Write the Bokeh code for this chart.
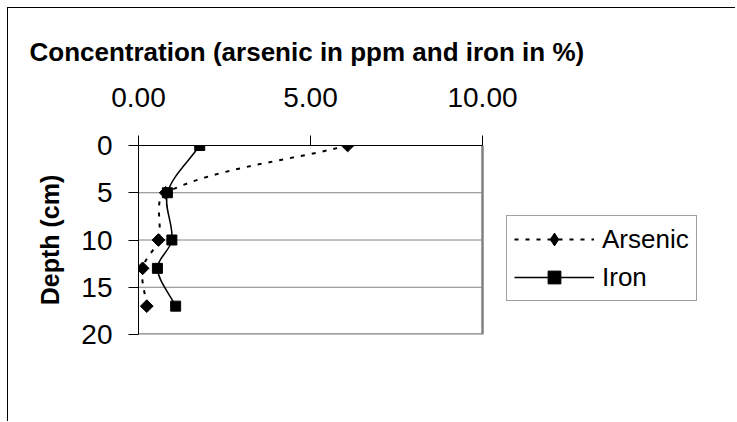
from bokeh.plotting import figure
from bokeh.models import (Range1d, FixedTicker, NumeralTickFormatter, Legend, LegendItem,
                          ColumnDataSource)
from bokeh.embed import file_html
from bokeh.resources import INLINE
import math

# ---- data ----
depth_cm = [0, 5, 10, 13, 17]
arsenic_ppm = [6.08, 0.79, 0.58, 0.12, 0.24]
iron_pct = [1.78, 0.84, 0.97, 0.55, 1.08]
x_ticks = [0, 5, 10]
y_ticks = [0, 5, 10, 15, 20]
grid_ticks = [5, 10, 15]
x_lim = (0, 10)
y_lim = (0, 20)
title_text = "Concentration (arsenic in ppm and iron in %)"
y_label = "Depth (cm)"
series_names = ["Arsenic", "Iron"]

FONT = "Liberation Sans"

# layout (pixels inside the canvas; the canvas starts 8 px from the window's corner)
W, H = 728, 414
LEFT, TOP, BOTTOM = 130, 137, 88
RIGHT = 10
PLOT_W = 344            # width of the 0..10 plotting box
PLOT_H = H - TOP - BOTTOM
FRAME_W = W - LEFT - RIGHT
x_end = x_lim[0] + (x_lim[1] - x_lim[0]) * FRAME_W / PLOT_W
SX = PLOT_W / (x_lim[1] - x_lim[0])   # px per x unit
SY = PLOT_H / (y_lim[1] - y_lim[0])   # px per y unit


def smooth_segments(xs, ys):
    """Bezier segments of an Excel-style smoothed line, computed from the data points."""
    n = len(xs)
    seg = dict(x0=[], y0=[], x1=[], y1=[], cx0=[], cy0=[], cx1=[], cy1=[])

    def dist(a, b):
        return math.hypot((a[0] - b[0]) * SX, (a[1] - b[1]) * SY)

    for i in range(n - 1):
        p0 = (xs[max(i - 1, 0)], ys[max(i - 1, 0)])
        p1 = (xs[i], ys[i])
        p2 = (xs[i + 1], ys[i + 1])
        p3 = (xs[min(i + 2, n - 1)], ys[min(i + 2, n - 1)])
        d01, d12, d23 = dist(p0, p1), dist(p1, p2), dist(p2, p3)
        r1 = d12 / (d01 + d12) if d01 + d12 > 0 else 0.5
        r2 = d12 / (d12 + d23) if d12 + d23 > 0 else 0.5
        seg["x0"].append(p1[0]); seg["y0"].append(p1[1])
        seg["x1"].append(p2[0]); seg["y1"].append(p2[1])
        seg["cx0"].append(p1[0] + (p2[0] - p0[0]) * r1 / 3.0)
        seg["cy0"].append(p1[1] + (p2[1] - p0[1]) * r1 / 3.0)
        seg["cx1"].append(p2[0] - (p3[0] - p1[0]) * r2 / 3.0)
        seg["cy1"].append(p2[1] - (p3[1] - p1[1]) * r2 / 3.0)
    return ColumnDataSource(seg)


p = figure(width=W, height=H, output_backend="svg", toolbar_location=None,
           x_range=Range1d(x_lim[0], x_end), y_range=Range1d(y_lim[1], y_lim[0]),
           x_axis_location="above", min_border_left=LEFT, min_border_right=RIGHT,
           min_border_top=TOP, min_border_bottom=BOTTOM)
# outer chart border: only its left and top edges fall inside the window
p.margin = (7, 0, 0, 7)
p.styles = {"border-left": "1px solid #000000", "border-top": "1px solid #000000"}

p.background_fill_color = "white"
p.border_fill_color = "white"
p.outline_line_color = None

# axes
xa = p.xaxis[0]
xa.ticker = FixedTicker(ticks=x_ticks)
xa.formatter = NumeralTickFormatter(format="0.00")
xa.bounds = x_lim
ya = p.yaxis[0]
ya.ticker = FixedTicker(ticks=y_ticks)
ya.axis_label = y_label
for ax in (xa, ya):
    ax.axis_line_color = "black"
    ax.axis_line_width = 1
    ax.major_tick_line_color = "black"
    ax.major_tick_out = 10
    ax.major_tick_in = 0
    ax.minor_tick_line_color = None
    ax.major_label_text_font = FONT
    ax.major_label_text_font_size = "28px"
    ax.major_label_text_color = "black"
xa.major_label_standoff = 29
ya.major_label_standoff = 16
ya.axis_label_text_font = FONT
ya.axis_label_text_font_size = "25px"
ya.axis_label_text_font_style = "bold"
ya.axis_label_text_color = "black"
ya.axis_label_standoff = 14

p.xgrid.grid_line_color = None
p.ygrid.grid_line_color = None

# horizontal gridlines and the grey right/bottom edges of the plotting box
p.segment(x0=[x_lim[0]] * len(grid_ticks), x1=[x_lim[1]] * len(grid_ticks),
          y0=grid_ticks, y1=grid_ticks, line_color="#808080", line_width=1)
p.segment(x0=[x_lim[1], x_lim[0]], x1=[x_lim[1], x_lim[1]],
          y0=[y_lim[0], y_lim[1]], y1=[y_lim[1], y_lim[1]],
          line_color="#808080", line_width=2.5)

# title
p.title.text = title_text
p.title.align = "left"
p.title.offset = -109
p.title.text_font = FONT
p.title.text_font_size = "26px"
p.title.text_font_style = "bold"
p.title.text_color = "black"
p.title.standoff = 36

# series
as_line = p.bezier(x0="x0", y0="y0", x1="x1", y1="y1", cx0="cx0", cy0="cy0",
                   cx1="cx1", cy1="cy1", source=smooth_segments(arsenic_ppm, depth_cm),
                   line_color="black", line_width=2, line_dash="4 7")
# diamond key (hidden under the rotated squares in the plot, drawn in the legend)
as_key = p.scatter(arsenic_ppm, depth_cm, marker="diamond", size=11,
                   fill_color="black", line_color="black")
p.scatter(arsenic_ppm, depth_cm, marker="square", angle=math.pi / 4, size=9,
          fill_color="black", line_color="black")
fe_line = p.bezier(x0="x0", y0="y0", x1="x1", y1="y1", cx0="cx0", cy0="cy0",
                   cx1="cx1", cy1="cy1", source=smooth_segments(iron_pct, depth_cm),
                   line_color="black", line_width=1.5)
fe_pts = p.scatter(iron_pct, depth_cm, marker="square", size=10,
                   fill_color="black", line_color="black")

legend = Legend(items=[LegendItem(label=series_names[0], renderers=[as_line, as_key]),
                       LegendItem(label=series_names[1], renderers=[fe_line, fe_pts])],
                location=(368, 33), orientation="vertical",
                label_text_font=FONT, label_text_font_size="26px", label_text_color="black",
                glyph_width=80, glyph_height=32, label_height=32, label_standoff=8,
                spacing=6, padding=7, margin=0,
                border_line_color="#404040", border_line_width=1,
                background_fill_color="white", background_fill_alpha=1)
p.add_layout(legend, "center")

open("out.html", "w").write(file_html(p, INLINE))
